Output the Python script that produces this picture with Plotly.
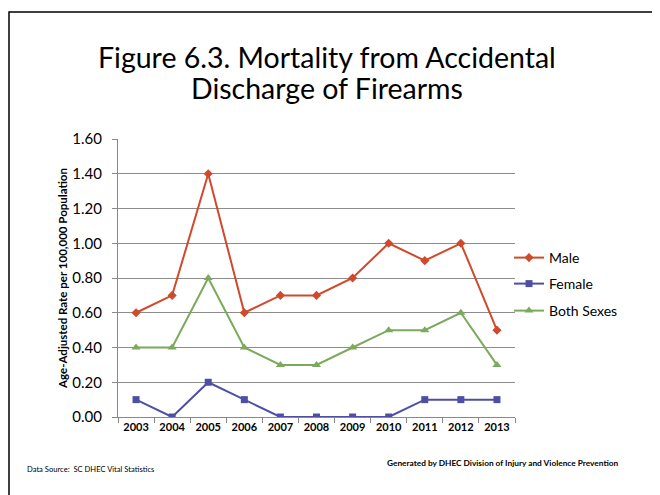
import plotly.graph_objects as go

years = ["2003", "2004", "2005", "2006", "2007", "2008", "2009", "2010", "2011", "2012", "2013"]
male = [0.6, 0.7, 1.4, 0.6, 0.7, 0.7, 0.8, 1.0, 0.9, 1.0, 0.5]
female = [0.1, 0.0, 0.2, 0.1, 0.0, 0.0, 0.0, 0.0, 0.1, 0.1, 0.1]
both = [0.4, 0.4, 0.8, 0.4, 0.3, 0.3, 0.4, 0.5, 0.5, 0.6, 0.3]

OFF = 8  # page body margin
W, H = 660 - OFF, 495 - OFF
L, R, T, B = 118 - OFF, 515 - OFF, 139 - OFF, 417 - OFF


def px(x):
    """page x -> paper x"""
    return (x - OFF - L) / (R - L)


def py(y):
    """page y -> paper y"""
    return (B - (y - OFF)) / (B - T)


FONT = "Lato"

fig = go.Figure()
fig.add_trace(go.Scatter(x=years, y=male, name="Male", mode="lines+markers",
                         line=dict(color="#D0492B", width=2), legend="legend",
                         marker=dict(symbol="diamond", size=7, color="#D0492B")))
fig.add_trace(go.Scatter(x=years, y=female, name="Female", mode="lines+markers",
                         line=dict(color="#4E4EA6", width=2), legend="legend2",
                         marker=dict(symbol="square", size=7, color="#4E4EA6")))
fig.add_trace(go.Scatter(x=years, y=both, name="Both Sexes", mode="lines+markers",
                         line=dict(color="#7BAA5C", width=2), legend="legend3",
                         marker=dict(symbol="triangle-up", size=8, color="#7BAA5C")))

leg = dict(xanchor="left", yanchor="middle", font=dict(size=14, family=FONT),
           itemwidth=30, bgcolor="rgba(0,0,0,0)", borderwidth=0)

fig.update_layout(
    width=W, height=H,
    margin=dict(l=L, r=W - R, t=T, b=H - B, pad=0, autoexpand=False),
    paper_bgcolor="white", plot_bgcolor="white",
    font=dict(family=FONT, color="#000000"),
    showlegend=True,
    legend=dict(x=px(509), y=py(258), **leg),
    legend2=dict(x=px(509), y=py(284), **leg),
    legend3=dict(x=px(509), y=py(311), **leg),
    xaxis=dict(type="category", showgrid=False, showline=True, linecolor="#888888",
               linewidth=1, ticks="outside", tickson="boundaries", ticklen=5,
               tickcolor="#888888",
               tickfont=dict(size=11, family=FONT, weight="bold"),
               range=[-0.5, 10.5]),
    yaxis=dict(range=[0, 1.6], dtick=0.2, tickformat=".2f", showgrid=True,
               gridcolor="#8C8C8C", gridwidth=1, showline=True, linecolor="#888888",
               ticks="outside", ticklen=5, tickcolor="#888888", ticklabelstandoff=7,
               tickfont=dict(size=15, family=FONT), zeroline=False,
               title=dict(text="Age-Adjusted Rate per 100,000 Population",
                          font=dict(size=11.5, family=FONT, weight="bold"), standoff=2)),
)

fig.add_annotation(text="Figure 6.3. Mortality from Accidental",
                   xref="paper", yref="paper", x=px(327), y=py(57), xanchor="center",
                   yanchor="middle", showarrow=False,
                   font=dict(size=28.5, family=FONT, color="#000000"))
fig.add_annotation(text="Discharge of Firearms",
                   xref="paper", yref="paper", x=px(327), y=py(88), xanchor="center",
                   yanchor="middle", showarrow=False,
                   font=dict(size=28.5, family=FONT, color="#000000"))
fig.add_annotation(text="Data Source:  SC DHEC Vital Statistics",
                   xref="paper", yref="paper", x=px(25), y=py(469), xanchor="left",
                   yanchor="middle", showarrow=False,
                   font=dict(size=7.6, family=FONT, color="#000000"))
fig.add_annotation(text="<b>Generated by DHEC Division of Injury and Violence Prevention</b>",
                   xref="paper", yref="paper", x=px(385), y=py(463), xanchor="left",
                   yanchor="middle", showarrow=False,
                   font=dict(size=8.3, family=FONT, color="#000000"))

fig.add_shape(type="rect", xref="paper", yref="paper",
              x0=px(9), x1=px(700), y0=py(540), y1=py(12),
              line=dict(color="#000000", width=1.5), fillcolor="rgba(0,0,0,0)", layer="below")

fig.write_html("out.html")
